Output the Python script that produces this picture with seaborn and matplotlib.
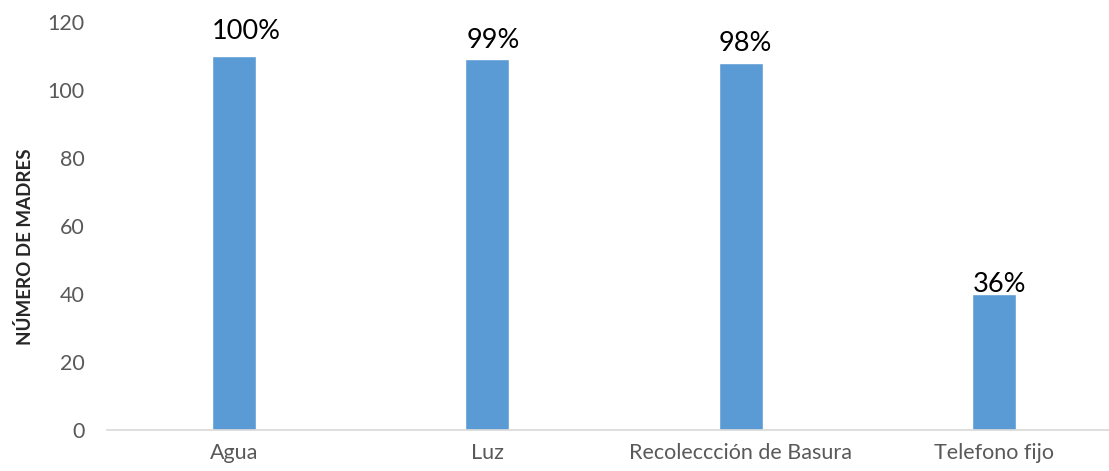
import numpy as np
import pandas as pd
import seaborn as sns
import matplotlib.pyplot as plt

# data
servicios = ["Agua", "Luz", "Recoleccción de Basura", "Telefono fijo"]
madres = [110, 109, 108, 40]
porcentajes = ["100%", "99%", "98%", "36%"]
# small nudges of the % labels as they sit in the original (points)
label_dx = [9, 4.5, 3, 3.5]
label_dy = [12, 8, 8.5, 1.5]

df = pd.DataFrame({"servicio": servicios, "madres": madres})

sns.set_style("white")
plt.rcParams["font.family"] = ["Lato", "DejaVu Sans"]

fig = plt.figure(figsize=(11.09, 4.71), dpi=100)
# plot area runs a bit past the right edge, like the cropped original
ax = fig.add_axes([0.0965, 0.087, 0.9143, 0.8663])

sns.barplot(data=df, x="servicio", y="madres", color="#5b9bd5", width=0.174,
            saturation=1, ax=ax)

for p, txt, dx, dy in zip(ax.patches, porcentajes, label_dx, label_dy):
    ax.annotate(txt, (p.get_x() + p.get_width() / 2, p.get_height()),
                xytext=(dx, dy), textcoords="offset points",
                ha="center", va="baseline", fontsize=19.5, color="black")

ax.set_ylim(0, 120)
ax.set_yticks(np.arange(0, 121, 20))
ax.set_xlabel("")
ax.set_ylabel("NÚMERO DE MADRES", fontsize=13.5, fontweight="bold")
ax.yaxis.set_label_coords(-0.072, 0.45)
ax.tick_params(axis="both", length=0, labelsize=15.5, colors="#595959")
ax.tick_params(axis="x", pad=9)
ax.tick_params(axis="y", pad=16)
for s in ["top", "right", "left"]:
    ax.spines[s].set_visible(False)
ax.spines["bottom"].set_color("#d9d9d9")
ax.spines["bottom"].set_linewidth(1.2)

fig.savefig("out.png", dpi=100)
